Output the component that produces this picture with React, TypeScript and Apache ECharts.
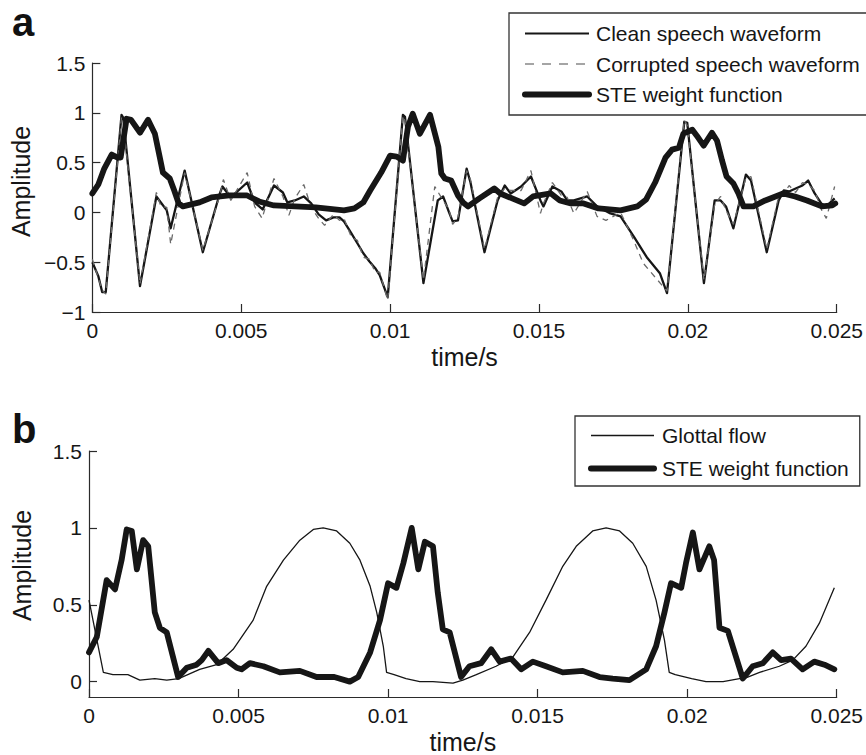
import React, { useEffect, useRef } from "react";
import * as echarts from "echarts";

// ---------- Panel a ----------
const cleanTime = [
  0, 0.0002, 0.00033, 0.00045, 0.00098, 0.00104, 0.0016, 0.00215, 0.0023, 0.0025,
  0.00263, 0.0031, 0.00371, 0.00427, 0.00437, 0.00465, 0.0052, 0.00545, 0.00572, 0.0061,
  0.0064, 0.00655, 0.0068, 0.0071, 0.00735, 0.0076, 0.00785, 0.0081, 0.0083, 0.00845,
  0.0087, 0.0089, 0.0091, 0.0093, 0.0095, 0.00965, 0.00992, 0.01043, 0.0105, 0.01112,
  0.0116, 0.01178, 0.01198, 0.0121, 0.01228, 0.01257, 0.0127, 0.01317, 0.01361, 0.01385,
  0.01405, 0.0144, 0.01473, 0.01505, 0.01515, 0.01545, 0.01575, 0.01595, 0.01617, 0.01662,
  0.01695, 0.0174, 0.01774, 0.01818, 0.01862, 0.01906, 0.0193, 0.01988, 0.01998, 0.02054,
  0.0209, 0.0211, 0.02128, 0.02153, 0.02195, 0.02212, 0.02265, 0.02305, 0.02322, 0.0234,
  0.02362, 0.02385, 0.02404, 0.02426, 0.02448, 0.02465, 0.02493,
];
const cleanAmp = [
  -0.5, -0.64, -0.8, -0.8, 0.98, 0.95, -0.74, 0.16, 0.1, 0.02,
  -0.16, 0.42, -0.4, 0.18, 0.26, 0.15, 0.3, 0.1, 0.03, 0.27,
  0.2, 0.1, 0.12, 0.16, 0.09, -0.02, -0.08, -0.05, -0.05, -0.09,
  -0.21, -0.31, -0.41, -0.49, -0.56, -0.63, -0.85, 0.98, 0.96, -0.71,
  0.12, 0.16, 0.0, -0.09, -0.08, 0.44, 0.3, -0.4, 0.12, 0.27,
  0.19, 0.26, 0.36, 0.12, 0.06, 0.26, 0.21, 0.12, 0.12, 0.16,
  0.06, -0.01, -0.04, -0.24, -0.45, -0.61, -0.81, 0.91, 0.9, -0.71,
  0.12, 0.12, 0.06, -0.16, 0.38, 0.32, -0.4, 0.12, 0.22, 0.21,
  0.24, 0.27, 0.32, 0.19, 0.09, 0.06, 0.14,
];
const corruptedTime = [
  0, 0.0002, 0.00033, 0.00045, 0.00098, 0.00104, 0.0016, 0.00215, 0.0023, 0.0025,
  0.00263, 0.0031, 0.00371, 0.00427, 0.0044, 0.00465, 0.0052, 0.00545, 0.0057, 0.0061,
  0.0064, 0.0066, 0.0068, 0.0071, 0.00735, 0.0076, 0.0078, 0.0081, 0.0083, 0.00845,
  0.0087, 0.0089, 0.0091, 0.0093, 0.0095, 0.00965, 0.00992, 0.01043, 0.0105, 0.01112,
  0.0115, 0.01178, 0.01198, 0.0121, 0.01228, 0.01257, 0.0127, 0.01317, 0.01361, 0.01385,
  0.01405, 0.0144, 0.01473, 0.01505, 0.01515, 0.01545, 0.01575, 0.01595, 0.01617, 0.01662,
  0.01695, 0.01725, 0.01774, 0.01818, 0.0185, 0.0189, 0.0193, 0.01988, 0.01998, 0.02054,
  0.0209, 0.0211, 0.02128, 0.02153, 0.02195, 0.02212, 0.02265, 0.02305, 0.02322, 0.0234,
  0.02362, 0.02385, 0.02404, 0.02426, 0.02448, 0.02465, 0.02493,
];
const corruptedAmp = [
  -0.47, -0.66, -0.78, -0.82, 0.96, 0.9, -0.72, 0.2, 0.06, 0.05,
  -0.32, 0.4, -0.38, 0.16, 0.33, 0.12, 0.4, 0.06, -0.06, 0.34,
  0.16, -0.03, 0.14, 0.28, 0.05, -0.06, -0.13, -0.02, -0.08, -0.06,
  -0.25, -0.28, -0.45, -0.47, -0.6, -0.6, -0.88, 0.97, 0.92, -0.68,
  0.26, 0.12, 0.03, -0.12, -0.05, 0.42, 0.33, -0.37, 0.15, 0.24,
  0.22, 0.22, 0.42, -0.01, 0.09, 0.3, 0.17, 0.15, -0.01, 0.21,
  -0.04, -0.08, 0.0, -0.28, -0.51, -0.65, -0.79, 0.93, 0.87, -0.68,
  0.08, 0.16, 0.02, -0.12, 0.35, 0.36, -0.37, 0.16, 0.18, 0.27,
  0.2, 0.3, 0.28, 0.22, 0.03, -0.06, 0.26,
];
const steTimeA = [
  0, 0.0002, 0.0004, 0.00065, 0.00085, 0.00095, 0.00115, 0.0013, 0.0016, 0.00187,
  0.0021, 0.00226, 0.00237, 0.0026, 0.00275, 0.0029, 0.00304, 0.0036, 0.004, 0.0046,
  0.0052, 0.0056, 0.0061, 0.0068, 0.0075, 0.00845, 0.0088, 0.0091, 0.00933, 0.0097,
  0.01, 0.01022, 0.01043, 0.0106, 0.01076, 0.011, 0.01134, 0.01162, 0.01172, 0.01184,
  0.01205, 0.01228, 0.01245, 0.01262, 0.013, 0.0135, 0.0137, 0.0145, 0.0148, 0.0154,
  0.0157, 0.01607, 0.0165, 0.017, 0.01774, 0.0183, 0.0186, 0.0189, 0.01925, 0.01947,
  0.0197, 0.01985, 0.02015, 0.0203, 0.02053, 0.02081, 0.02098, 0.02115, 0.0213, 0.02153,
  0.0217, 0.02187, 0.0222, 0.0226, 0.0232, 0.0236, 0.024, 0.0245, 0.02485, 0.02495,
];
const steAmpA = [
  0.19, 0.28, 0.44, 0.58, 0.55, 0.55, 0.94, 0.93, 0.8, 0.93,
  0.79, 0.56, 0.4, 0.34, 0.22, 0.09, 0.06, 0.1, 0.15, 0.17,
  0.17, 0.11, 0.07, 0.06, 0.05, 0.02, 0.04, 0.1, 0.22, 0.4,
  0.57, 0.56, 0.52, 0.86, 0.99, 0.79, 0.98, 0.66, 0.39, 0.34,
  0.32, 0.17, 0.1, 0.06, 0.14, 0.24, 0.19, 0.09, 0.16, 0.19,
  0.12, 0.09, 0.09, 0.04, 0.02, 0.06, 0.13, 0.3, 0.55, 0.63,
  0.65, 0.79, 0.83, 0.77, 0.67, 0.8, 0.72, 0.52, 0.36, 0.29,
  0.19, 0.06, 0.06, 0.12, 0.19, 0.16, 0.12, 0.06, 0.07, 0.09,
];

// ---------- Panel b ----------
const glottalTime = [
  0, 0.00048, 0.0008, 0.0013, 0.0017, 0.0022, 0.0026, 0.003, 0.0037, 0.00427,
  0.00482, 0.00549, 0.00594, 0.0065, 0.00705, 0.0075, 0.00783, 0.00828, 0.00872, 0.00906,
  0.0094, 0.00962, 0.00984, 0.00995, 0.0102, 0.0106, 0.01106, 0.0115, 0.01217, 0.0125,
  0.01295, 0.01361, 0.01417, 0.01473, 0.01528, 0.01584, 0.01629, 0.01684, 0.01729, 0.01774,
  0.01818, 0.01863, 0.01896, 0.01924, 0.0194, 0.0196, 0.02015, 0.02063, 0.0212, 0.02175,
  0.0219, 0.02242, 0.02308, 0.02353, 0.02397, 0.02442, 0.02492,
];
const glottalAmp = [
  0.53, 0.06, 0.045, 0.045, 0.01, 0.02, 0.01, 0.02, 0.08, 0.11,
  0.21, 0.4, 0.62, 0.79, 0.92, 0.99, 1.0, 0.98, 0.9, 0.79,
  0.62, 0.45, 0.23, 0.06, 0.045, 0.02, 0.0, 0.0, -0.01, 0.01,
  0.045, 0.1, 0.16, 0.32, 0.53, 0.75, 0.88, 0.98, 1.0, 0.98,
  0.9, 0.75, 0.53, 0.27, 0.06, 0.045, 0.02, 0.0, 0.0, 0.02,
  0.02, 0.06, 0.1, 0.14, 0.23, 0.38, 0.61,
];
const steTimeB = [
  0, 0.00026, 0.00059, 0.00087, 0.00109, 0.00126, 0.00143, 0.0016, 0.00181, 0.00198,
  0.0022, 0.00237, 0.0026, 0.00298, 0.00327, 0.0036, 0.00377, 0.00399, 0.00432, 0.0046,
  0.00494, 0.0051, 0.00538, 0.00583, 0.00638, 0.00705, 0.00761, 0.0082, 0.00872, 0.009,
  0.0094, 0.00973, 0.01, 0.01028, 0.01051, 0.01079, 0.01101, 0.01123, 0.0115, 0.01166,
  0.01183, 0.01206, 0.01244, 0.01272, 0.01311, 0.01345, 0.01373, 0.01411, 0.01445, 0.01484,
  0.01528, 0.01584, 0.01651, 0.01707, 0.01751, 0.01807, 0.01863, 0.01896, 0.01924, 0.01946,
  0.0198, 0.01996, 0.02019, 0.02041, 0.02074, 0.0209, 0.02108, 0.02136, 0.02186, 0.02219,
  0.02253, 0.02286, 0.02314, 0.02347, 0.02386, 0.02425, 0.02459, 0.02492,
];
const steAmpB = [
  0.19, 0.29, 0.66, 0.6, 0.79, 0.99, 0.98, 0.73, 0.92, 0.88,
  0.45, 0.35, 0.32, 0.03, 0.09, 0.11, 0.14, 0.2, 0.12, 0.14,
  0.09, 0.08, 0.12, 0.1, 0.06, 0.07, 0.03, 0.03, 0.0, 0.03,
  0.19, 0.4, 0.64, 0.61, 0.77, 1.0, 0.73, 0.91, 0.88, 0.58,
  0.34, 0.32, 0.03, 0.1, 0.12, 0.21, 0.13, 0.15, 0.08, 0.13,
  0.1, 0.06, 0.07, 0.03, 0.02, 0.01, 0.08, 0.23, 0.45, 0.64,
  0.61, 0.77, 0.97, 0.73, 0.88, 0.79, 0.35, 0.33, 0.02, 0.1,
  0.12, 0.19, 0.14, 0.15, 0.08, 0.13, 0.11, 0.08,
];

// ---------- Axes ----------
const xTicks = [0, 0.005, 0.01, 0.015, 0.02, 0.025];
const yTicksA = [-1, -0.5, 0, 0.5, 1, 1.5];
const yTicksB = [0, 0.5, 1, 1.5];
const yRangeB = [-0.1, 1.5];

const legendA = ["Clean speech waveform", "Corrupted speech waveform", "STE weight function"];
const legendB = ["Glottal flow", "STE weight function"];

const zip = (t: number[], v: number[]) => t.map((x, i) => [x, v[i]]);

const FONT = "'Liberation Sans', Arial, Helvetica, sans-serif";
const INK = "#161616";
const AXIS = { color: "#2b2b2b", width: 1.2 };

export default function App() {
  const ref = useRef<HTMLDivElement>(null);

  useEffect(() => {
    if (!ref.current) return;
    const chart = echarts.init(ref.current, null, { renderer: "svg" });

    const fmtX = (v: number) => String(parseFloat(Number(v).toFixed(4)));
    const fmtY = (v: number) =>
      String(parseFloat(Number(v).toFixed(2))).replace("-", "\u2212");

    const xAxis = (gridIndex: number) => ({
      type: "value",
      gridIndex,
      min: xTicks[0],
      max: xTicks[xTicks.length - 1],
      interval: xTicks[1] - xTicks[0],
      name: "time/s",
      nameLocation: "middle",
      nameGap: 32,
      nameTextStyle: { fontSize: 25, color: INK, fontFamily: FONT },
      axisLine: { onZero: false, lineStyle: AXIS },
      axisTick: { inside: true, length: 8, lineStyle: AXIS },
      axisLabel: {
        fontSize: 21,
        color: INK,
        fontFamily: FONT,
        margin: 8,
        formatter: fmtX,
        showMinLabel: true,
        showMaxLabel: true,
      },
      splitLine: { show: false },
    });

    const yName = (pad: number) => ({
      name: "Amplitude",
      nameLocation: "middle",
      nameGap: 55,
      nameTextStyle: { fontSize: 25, color: INK, fontFamily: FONT, padding: [0, 0, 0, pad] },
    });

    const option: any = {
      animation: false,
      backgroundColor: "#ffffff",
      grid: [
        { left: 89, top: 63, width: 748, height: 249, containLabel: false },
        { left: 89, top: 451, width: 748, height: 246, containLabel: false },
      ],
      xAxis: [xAxis(0), xAxis(1)],
      yAxis: [
        {
          type: "value",
          gridIndex: 0,
          min: yTicksA[0],
          max: yTicksA[yTicksA.length - 1],
          interval: 0.5,
          ...yName(12),
          axisLine: { show: true, onZero: false, lineStyle: AXIS },
          axisTick: { show: true, inside: true, length: 8, lineStyle: AXIS },
          axisLabel: { fontSize: 21, color: INK, fontFamily: FONT, margin: 7, formatter: fmtY },
          splitLine: { show: false },
        },
        {
          type: "value",
          gridIndex: 1,
          min: yRangeB[0],
          max: yRangeB[1],
          ...yName(17),
          axisLine: { show: true, onZero: false, lineStyle: AXIS },
          axisTick: { show: true, inside: true, length: 8, lineStyle: AXIS, customValues: yTicksB },
          axisLabel: {
            fontSize: 21,
            color: INK,
            fontFamily: FONT,
            margin: 7,
            formatter: fmtY,
            customValues: yTicksB,
          },
          splitLine: { show: false },
        },
      ],
      legend: [
        {
          orient: "vertical",
          left: 509,
          top: 13,
          padding: [10, 30, 10, 13],
          itemWidth: 64,
          itemHeight: 20,
          itemGap: 9.5,
          borderColor: "#333",
          borderWidth: 1.3,
          selectedMode: false,
          itemStyle: { opacity: 0 },
          textStyle: { fontSize: 21, color: INK, fontFamily: FONT, padding: [0, 0, 0, 2] },
          data: [
            { name: legendA[0], lineStyle: { width: 2.2, color: INK, type: "solid" } },
            { name: legendA[1], lineStyle: { width: 1.4, color: "#888", type: [9, 8] } },
            { name: legendA[2], lineStyle: { width: 6, color: INK, type: "solid" } },
          ],
        },
        {
          orient: "vertical",
          left: 575,
          top: 416,
          padding: [9, 11, 7, 13],
          itemWidth: 63,
          itemHeight: 20,
          itemGap: 12,
          borderColor: "#333",
          borderWidth: 1.3,
          selectedMode: false,
          itemStyle: { opacity: 0 },
          textStyle: { fontSize: 21, color: INK, fontFamily: FONT, padding: [0, 0, 0, 3] },
          data: [
            { name: legendB[0], lineStyle: { width: 1.3, color: INK, type: "solid" } },
            { name: legendB[1], lineStyle: { width: 6, color: INK, type: "solid" } },
          ],
        },
      ],
      graphic: [
        {
          type: "text",
          left: 12,
          top: 2,
          style: { text: "a", fontSize: 40, fontWeight: "bold", fontFamily: FONT, fill: "#111" },
        },
        {
          type: "text",
          left: 12,
          top: 409,
          style: { text: "b", fontSize: 40, fontWeight: "bold", fontFamily: FONT, fill: "#111" },
        },
      ],
      series: [
        {
          name: legendA[0],
          type: "line",
          xAxisIndex: 0,
          yAxisIndex: 0,
          data: zip(cleanTime, cleanAmp),
          showSymbol: false,
          symbol: "none",
          lineStyle: { color: INK, width: 2.3, join: "round" },
        },
        {
          name: legendA[1],
          type: "line",
          xAxisIndex: 0,
          yAxisIndex: 0,
          data: zip(corruptedTime, corruptedAmp),
          showSymbol: false,
          symbol: "none",
          lineStyle: { color: "#6a6a6a", width: 1.3, type: [6, 5] },
        },
        {
          name: legendA[2],
          type: "line",
          xAxisIndex: 0,
          yAxisIndex: 0,
          data: zip(steTimeA, steAmpA),
          showSymbol: false,
          symbol: "none",
          lineStyle: { color: INK, width: 5.8, join: "round", cap: "round" },
        },
        {
          name: legendB[0],
          type: "line",
          xAxisIndex: 1,
          yAxisIndex: 1,
          data: zip(glottalTime, glottalAmp),
          showSymbol: false,
          symbol: "none",
          lineStyle: { color: INK, width: 1.3 },
        },
        {
          name: legendB[1],
          type: "line",
          xAxisIndex: 1,
          yAxisIndex: 1,
          data: zip(steTimeB, steAmpB),
          showSymbol: false,
          symbol: "none",
          lineStyle: { color: INK, width: 5.8, join: "round", cap: "round" },
        },
      ],
    };

    chart.setOption(option);
    return () => chart.dispose();
  }, []);

  return (
    <div
      ref={ref}
      style={{ position: "fixed", left: 0, top: 0, width: 866, height: 755, background: "#fff" }}
    />
  );
}
